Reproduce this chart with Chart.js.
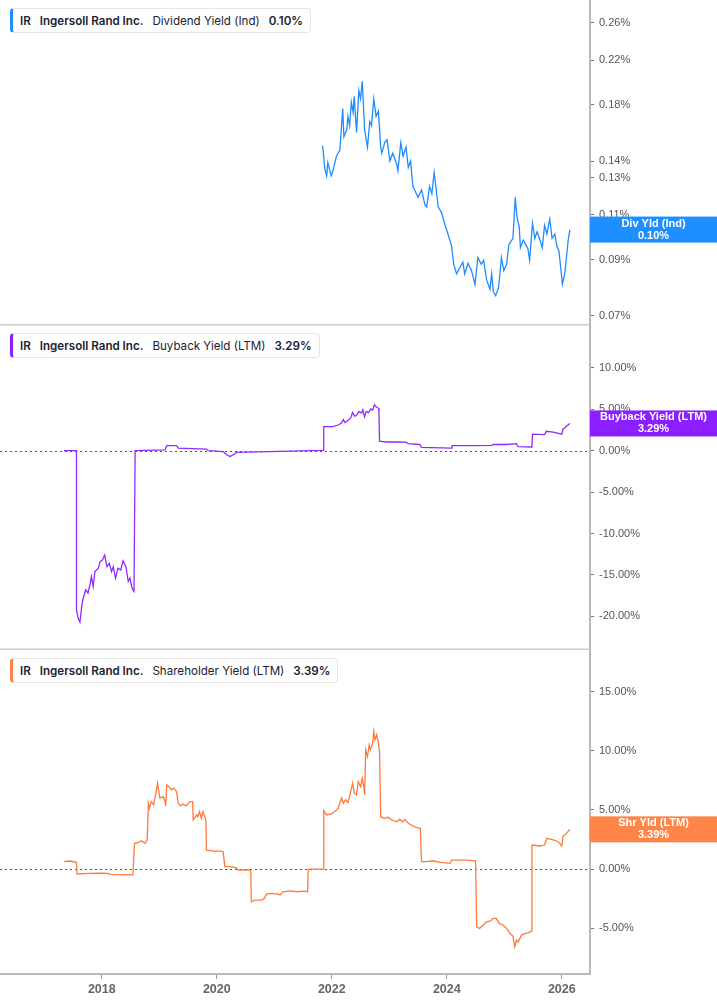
<!DOCTYPE html>
<html>
<head>
<meta charset="utf-8">
<script src="https://cdn.jsdelivr.net/npm/chart.js@4.4.1/dist/chart.umd.min.js"></script>
<style>
html, body { margin: 0; padding: 0; background: #fff; }
#wrap { position: relative; width: 717px; height: 1005px; }
#c { position: absolute; left: 0; top: 0; }
.tag {
  position: absolute; left: 10px; height: 23px; padding: 0 7px 0 7px;
  border: 1px solid #e6e6e6; border-left: 3px solid; border-radius: 4px; background: #fff;
  font: 11.6px Inter, sans-serif; color: #1b2233; display: flex; align-items: center; white-space: nowrap;
}
.tag span { margin-right: 9px; }
.tag span:last-child { margin-right: 0; }
.tag .b { font-weight: 600; }
</style>
</head>
<body>
<div id="wrap">
  <canvas id="c" width="717" height="1005"></canvas>
</div>
<script>
// x axis + tick labels
const yearTicks = [2018, 2020, 2022, 2024, 2026];
const divTicks = [0.07, 0.09, 0.11, 0.13, 0.14, 0.18, 0.22, 0.26];
const buyTicks = [-20, -15, -10, -5, 0, 5, 10];
const shrTicks = [-5, 0, 5, 10, 15];

// Dividend Yield (Ind), %
const divYears = [2021.84,2021.88,2021.91,2021.93,2021.99,2022.02,2022.08,2022.14,2022.19,2022.21,
  2022.26,2022.28,2022.31,2022.34,2022.37,2022.39,2022.43,2022.47,2022.50,2022.53,
  2022.57,2022.62,2022.66,2022.69,2022.73,2022.77,2022.81,2022.85,2022.87,2022.92,
  2022.96,2023.01,2023.06,2023.13,2023.15,2023.20,2023.24,2023.29,2023.33,2023.37,
  2023.41,2023.44,2023.50,2023.56,2023.62,2023.65,2023.70,2023.74,2023.78,2023.82,
  2023.85,2023.91,2023.97,2024.02,2024.08,2024.12,2024.17,2024.23,2024.28,2024.31,
  2024.37,2024.43,2024.49,2024.54,2024.60,2024.64,2024.69,2024.75,2024.78,2024.81,
  2024.85,2024.90,2024.95,2024.99,2025.04,2025.08,2025.13,2025.15,2025.19,2025.22,
  2025.26,2025.28,2025.33,2025.37,2025.41,2025.44,2025.49,2025.53,2025.57,2025.62,
  2025.66,2025.70,2025.74,2025.79,2025.83,2025.88,2025.91,2025.95,2025.98,2026.01,
  2026.05,2026.08,2026.11,2026.14];
const divValues = [0.150,0.135,0.131,0.139,0.131,0.134,0.143,0.147,0.177,0.156,
  0.161,0.171,0.164,0.182,0.174,0.187,0.159,0.192,0.185,0.200,
  0.161,0.149,0.167,0.164,0.185,0.171,0.175,0.149,0.145,0.152,
  0.154,0.140,0.145,0.138,0.134,0.152,0.143,0.149,0.136,0.140,
  0.125,0.123,0.119,0.123,0.115,0.114,0.125,0.121,0.133,0.122,
  0.114,0.111,0.105,0.101,0.096,0.0882,0.0845,0.087,0.089,0.0845,
  0.0886,0.0857,0.0806,0.0908,0.0882,0.0898,0.0824,0.0788,0.0845,0.078,
  0.0766,0.0795,0.0908,0.0857,0.0882,0.0964,0.0983,0.099,0.119,0.109,
  0.104,0.095,0.0983,0.0964,0.0946,0.0898,0.106,0.099,0.102,0.0983,
  0.095,0.105,0.101,0.108,0.099,0.101,0.096,0.0935,0.087,0.0807,
  0.0845,0.0908,0.0981,0.103];

// Buyback Yield (LTM), %
const buyYears = [2017.34,2017.56,2017.56,2017.59,2017.62,2017.65,2017.67,2017.72,2017.76,2017.80,
  2017.82,2017.85,2017.88,2017.94,2017.97,2018.01,2018.05,2018.09,2018.13,2018.17,
  2018.20,2018.24,2018.28,2018.33,2018.37,2018.42,2018.46,2018.49,2018.52,2018.54,
  2018.56,2018.58,2019.10,2019.13,2019.30,2019.33,2019.82,2019.85,2020.11,2020.17,
  2020.23,2020.31,2020.34,2021.85,2021.86,2022.02,2022.11,2022.17,2022.20,2022.23,
  2022.28,2022.33,2022.36,2022.40,2022.44,2022.47,2022.52,2022.54,2022.57,2022.60,
  2022.64,2022.68,2022.71,2022.74,2022.77,2022.81,2022.82,2022.83,2022.95,2023.18,
  2023.30,2023.33,2023.53,2023.56,2024.08,2024.09,2024.46,2024.78,2024.81,2025.04,
  2025.21,2025.24,2025.48,2025.49,2025.70,2025.73,2025.85,2026.00,2026.02,2026.08,
  2026.14];
const buyValues = [0,0,-19.25,-20.25,-20.7,-18.85,-18.0,-16.8,-17.2,-16.0,
  -15.2,-16.4,-14.6,-14.2,-13.4,-13.2,-12.6,-14.0,-13.6,-14.6,
  -14.0,-15.4,-14.2,-14.4,-13.3,-14.0,-15.8,-15.4,-16.4,-16.8,
  -17.0,0,0.1,0.6,0.6,0.3,0.2,0,-0.1,-0.5,
  -0.7,-0.4,-0.2,0.05,2.9,2.9,3.1,3.35,3.75,3.4,
  3.65,3.95,4.6,4.15,4.35,4.75,4.55,4.95,4.1,4.75,
  4.6,5.05,4.9,5.55,5.3,5.15,4.75,1.15,1.05,1.05,
  1.0,0.85,0.75,0.4,0.3,0.6,0.6,0.65,0.75,0.75,
  0.85,0.5,0.45,2.0,1.95,2.35,2.25,2.0,2.6,2.95,
  3.29];

// Shareholder Yield (LTM), %
const shrYears = [2017.34,2017.44,2017.56,2017.57,2017.79,2017.97,2018.11,2018.14,2018.54,2018.57,
  2018.63,2018.69,2018.75,2018.79,2018.81,2018.83,2018.86,2018.90,2018.94,2018.97,
  2019.01,2019.07,2019.10,2019.11,2019.13,2019.17,2019.21,2019.25,2019.30,2019.33,
  2019.37,2019.41,2019.47,2019.53,2019.58,2019.59,2019.65,2019.67,2019.70,2019.73,
  2019.76,2019.81,2019.82,2019.94,2020.05,2020.11,2020.14,2020.23,2020.34,2020.37,
  2020.59,2020.60,2020.66,2020.78,2020.83,2020.86,2020.95,2021.07,2021.10,2021.15,
  2021.27,2021.39,2021.50,2021.58,2021.59,2021.85,2021.86,2021.91,2021.99,2022.05,
  2022.11,2022.17,2022.20,2022.24,2022.28,2022.31,2022.36,2022.39,2022.43,2022.46,
  2022.50,2022.53,2022.56,2022.57,2022.59,2022.62,2022.65,2022.67,2022.71,2022.73,
  2022.75,2022.78,2022.81,2022.83,2022.85,2022.92,2022.98,2023.04,2023.13,2023.18,
  2023.24,2023.27,2023.33,2023.41,2023.47,2023.54,2023.56,2023.65,2023.76,2023.88,
  2024.06,2024.08,2024.34,2024.50,2024.52,2024.57,2024.63,2024.69,2024.75,2024.81,
  2024.86,2024.91,2024.98,2025.04,2025.10,2025.15,2025.18,2025.21,2025.24,2025.30,
  2025.36,2025.41,2025.47,2025.48,2025.62,2025.70,2025.74,2025.85,2025.94,2026.00,
  2026.02,2026.08,2026.14];
const shrValues = [0.62,0.68,0.57,-0.42,-0.37,-0.34,-0.37,-0.45,-0.5,2.18,
  2.23,2.4,2.18,2.46,5.57,5.14,5.7,5.42,6.4,7.26,
  6.0,6.13,5.7,5.34,7.12,6.97,6.7,6.84,6.55,5.57,
  5.34,5.5,5.34,5.7,5.7,4.15,4.58,4.43,4.86,4.29,
  4.86,4.15,1.6,1.52,1.52,1.47,0.2,0.2,0.11,-0.08,
  -0.08,-2.77,-2.63,-2.63,-2.48,-2.12,-2.06,-2.12,-2.2,-1.92,
  -1.84,-1.92,-1.86,-1.92,0,0,4.94,4.58,4.66,4.86,
  5.14,6.0,5.57,5.85,5.62,6.13,7.26,6.47,6.27,7.4,
  6.97,7.69,6.84,6.27,10.08,9.52,10.5,10.08,10.65,11.64,
  10.93,11.36,10.65,9.94,4.43,4.29,4.38,4.15,4.0,4.2,
  4.0,4.2,3.87,3.64,3.53,3.45,0.62,0.62,0.7,0.57,
  0.48,0.76,0.76,0.7,-4.89,-5.03,-4.75,-4.47,-4.41,-4.18,
  -4.18,-4.6,-4.75,-5.03,-5.45,-5.68,-6.58,-6.02,-6.16,-5.59,
  -5.45,-5.4,-5.25,2.03,1.95,2.03,2.6,2.46,2.31,1.95,
  2.74,3.02,3.36];

const seriesNames = ['Dividend Yield (Ind)', 'Buyback Yield (LTM)', 'Shareholder Yield (LTM)'];
const badgeNames = ['Div Yld (Ind)', 'Buyback Yield (LTM)', 'Shr Yld (LTM)'];
const lastLabels = ['0.10%', '3.29%', '3.39%'];
const lineColors = ['#1e8cff', '#8f2bff', '#ff7a3c'];
const badgeColors = ['#1e8fff', '#8c1fff', '#ff8447'];

// title boxes
const tagTops = [8, 333, 658];
seriesNames.forEach((name, i) => {
  const d = document.createElement('div');
  d.className = 'tag';
  d.style.top = tagTops[i] + 'px';
  d.style.borderLeftColor = badgeColors[i];
  d.innerHTML = '<span class="b">IR</span><span class="b">Ingersoll Rand Inc.</span><span>' +
    name + '</span><span class="b">' + lastLabels[i] + '</span>';
  document.getElementById('wrap').appendChild(d);
});

const toPts = (xs, ys) => xs.map((x, i) => ({ x: x, y: ys[i] }));
const pct = v => Number(v).toFixed(2) + '%';

function yAxis(extra) {
  return Object.assign({
    position: 'right',
    stack: 'panels',
    stackWeight: 1,
    afterFit: s => { s.width = 127; s.paddingTop = 0; s.paddingBottom = 0; },
    grid: { drawOnChartArea: false, drawTicks: true, tickLength: 4, tickColor: '#777' },
    border: { color: '#b8b8b8', width: 2 },
    ticks: { color: '#555', font: { family: '"Liberation Sans", Arial, sans-serif', size: 11 },
      padding: 5, autoSkip: false, callback: pct }
  }, extra);
}

const panels = {
  id: 'panels',
  beforeDatasetsDraw(chart) {
    const { ctx, chartArea: a, scales } = chart;
    ctx.save();
    ctx.strokeStyle = '#cccccc';
    ctx.lineWidth = 1.5;
    [scales.y2.top, scales.y3.top].forEach(t => {
      ctx.beginPath(); ctx.moveTo(0, t); ctx.lineTo(a.right, t); ctx.stroke();
    });
    ctx.strokeStyle = '#555';
    ctx.lineWidth = 1;
    ctx.setLineDash([2, 3]);
    ['y2', 'y3'].forEach(id => {
      const y = Math.round(scales[id].getPixelForValue(0)) + 0.5;
      ctx.beginPath(); ctx.moveTo(0, y); ctx.lineTo(a.right, y); ctx.stroke();
    });
    ctx.restore();
  },
  afterDraw(chart) {
    const { ctx, chartArea: a } = chart;
    ctx.save();
    chart.data.datasets.forEach((ds, i) => {
      const sc = chart.scales[ds.yAxisID];
      const y = sc.getPixelForValue(ds.data[ds.data.length - 1].y);
      ctx.fillStyle = badgeColors[i];
      ctx.fillRect(a.right, y - 13, chart.width - a.right, 26);
      ctx.fillStyle = '#fff';
      ctx.font = 'bold 11px "Liberation Sans", Arial, sans-serif';
      ctx.textAlign = 'center';
      ctx.textBaseline = 'middle';
      const cx = (a.right + chart.width) / 2;
      ctx.fillText(badgeNames[i], cx, y - 6);
      ctx.fillText(lastLabels[i], cx, y + 6);
    });
    ctx.restore();
  }
};

new Chart(document.getElementById('c'), {
  type: 'line',
  data: {
    datasets: [
      { label: seriesNames[0], data: toPts(divYears, divValues), yAxisID: 'y1' },
      { label: seriesNames[1], data: toPts(buyYears, buyValues), yAxisID: 'y2' },
      { label: seriesNames[2], data: toPts(shrYears, shrValues), yAxisID: 'y3' }
    ].map((d, i) => Object.assign(d, {
      borderColor: lineColors[i], borderWidth: 1.3, pointRadius: 0, tension: 0, fill: false
    }))
  },
  options: {
    responsive: false,
    animation: false,
    layout: { padding: 0 },
    plugins: { legend: { display: false }, tooltip: { enabled: false } },
    scales: {
      x: {
        type: 'linear',
        min: 2016.23,
        max: 2026.49,
        afterBuildTicks: s => { s.ticks = yearTicks.map(v => ({ value: v })); },
        afterFit: s => { s.height = 31; s.paddingLeft = 0; s.paddingRight = 0; },
        grid: { drawOnChartArea: false, drawTicks: true, tickLength: 5, tickColor: '#999' },
        border: { color: '#b8b8b8', width: 2 },
        ticks: { color: '#666', font: { family: '"Liberation Sans", Arial, sans-serif', size: 12.5, weight: 'bold' },
          padding: 3, maxRotation: 0, autoSkip: false, callback: v => String(v) }
      },
      y1: yAxis({ type: 'logarithmic', min: 0.0673, max: 0.2878,
        afterBuildTicks: s => { s.ticks = divTicks.map(v => ({ value: v })); } }),
      y2: yAxis({ type: 'linear', min: -23.99, max: 15.22,
        afterBuildTicks: s => { s.ticks = buyTicks.map(v => ({ value: v })); } }),
      y3: yAxis({ type: 'linear', min: -8.88, max: 18.59,
        afterBuildTicks: s => { s.ticks = shrTicks.map(v => ({ value: v })); } })
    }
  },
  plugins: [panels]
});
</script>
</body>
</html>
